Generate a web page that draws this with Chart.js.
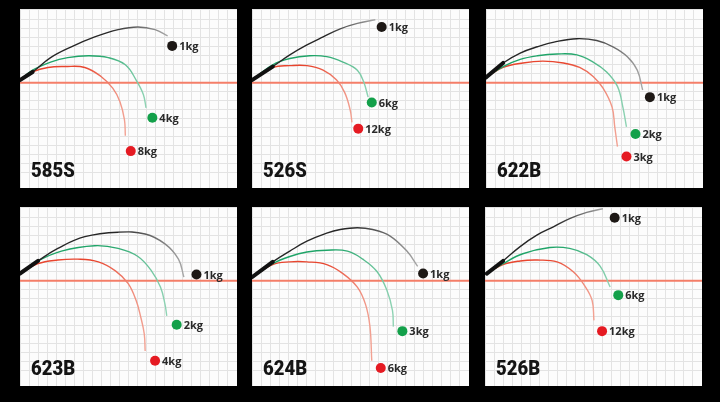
<!DOCTYPE html>
<html lang="en">
<head>
<meta charset="UTF-8" />
<title>Rod bend curves</title>
<script src="https://cdn.jsdelivr.net/npm/chart.js"></script>
<style>
  body { margin: 0; background: #000; width: 720px; height: 402px; overflow: hidden; position: relative; }
  canvas { position: absolute; background: #fcfcfc; }
</style>
</head>
<body>
<canvas id="c0" width="217" height="179" style="left:20px;top:9px"></canvas>
<canvas id="c1" width="217" height="179" style="left:252px;top:9px"></canvas>
<canvas id="c2" width="217" height="179" style="left:486px;top:9px"></canvas>
<canvas id="c3" width="217" height="179" style="left:20px;top:207px"></canvas>
<canvas id="c4" width="217" height="179" style="left:252px;top:207px"></canvas>
<canvas id="c5" width="217" height="179" style="left:485px;top:207px"></canvas>
<script>
// grid units, 0 = rod butt on the red line
const xMax = 24.1, yMin = -11.7, yMax = 8.2;

const rods = ['585S', '526S', '622B', '623B', '624B', '526B'];
const loads = [
  ['1kg', '4kg', '8kg'],
  ['1kg', '6kg', '12kg'],
  ['1kg', '2kg', '3kg'],
  ['1kg', '2kg', '4kg'],
  ['1kg', '3kg', '6kg'],
  ['1kg', '6kg', '12kg']
];

// 585S
const bend585S_light = [[0,0.3],[1.4,1.2],[3.4,2.8],[5.7,4.0],[8.3,5.1],[10.9,5.9],[13.1,6.2],[15.0,5.9],[16.4,5.2]];
const bend585S_mid   = [[0,0.3],[1.4,1.4],[3.4,2.3],[5.3,2.8],[7.6,3.0],[9.8,2.8],[11.7,2.0],[12.9,0.3],[13.7,-1.3],[14.0,-2.8]];
const bend585S_heavy = [[0,0.3],[1.4,1.2],[3.1,1.7],[5.0,1.8],[7.2,1.7],[9.0,0.7],[10.3,-0.6],[11.1,-2.1],[11.6,-4.1],[11.7,-5.9]];
const tips585S = [[16.9,4.1],[14.7,-3.9],[12.3,-7.6]];

// 526S
const bend526S_light = [[0,0.3],[2.3,1.8],[4.2,3.1],[6.1,4.2],[7.9,5.1],[9.8,6.0],[11.7,6.6],[13.7,7.0]];
const bend526S_mid   = [[0,0.3],[2.3,2.0],[4.2,2.7],[6.4,3.0],[8.3,2.9],[10.1,2.3],[11.7,1.4],[12.4,0.1],[12.9,-1.6]];
const bend526S_heavy = [[0,0.3],[2.3,1.7],[4.2,1.9],[6.1,1.9],[7.9,1.4],[9.4,0.3],[10.3,-1.1],[10.9,-3.0],[11.1,-4.4]];
const tips526S = [[14.4,6.2],[13.3,-2.2],[11.8,-5.1]];

// 622B
const bend622B_light = [[0,0.6],[1.9,2.2],[3.8,3.3],[5.7,4.0],[7.9,4.6],[10.1,4.9],[12.3,4.7],[14.1,4.0],[15.7,2.9],[16.8,1.4],[17.4,-0.8]];
const bend622B_mid   = [[0,0.6],[1.9,1.8],[3.8,2.6],[5.7,3.0],[7.9,3.2],[10.1,3.1],[11.9,2.3],[13.4,1.2],[14.6,-0.4],[15.2,-2.7],[15.6,-4.9]];
const bend622B_heavy = [[0,0.6],[1.9,1.7],[4.1,2.2],[6.3,2.4],[8.6,2.2],[10.4,1.7],[11.9,0.7],[13.0,-0.6],[14.0,-2.7],[14.3,-4.9],[14.6,-7.1]];
const tips622B = [[18.2,-1.6],[16.6,-5.7],[15.6,-8.2]];

// 623B
const bend623B_light = [[0,0.8],[2.0,2.2],[4.2,3.6],[7.2,4.9],[10.9,5.4],[13.9,5.2],[16.1,4.1],[17.6,2.4],[18.2,0.4]];
const bend623B_mid   = [[0,0.8],[2.0,2.2],[4.6,3.3],[8.3,3.9],[10.9,3.6],[13.1,2.7],[14.6,1.1],[15.6,-0.7],[16.1,-2.6],[16.3,-3.9]];
const bend623B_heavy = [[0,0.8],[2.0,1.9],[4.2,2.3],[6.4,2.4],[8.7,2.1],[10.6,1.1],[12.0,-0.3],[12.9,-2.2],[13.4,-4.0],[13.8,-5.9],[13.9,-7.8]];
const tips623B = [[19.6,0.7],[17.4,-4.9],[15.0,-8.9]];

// 624B
const bend624B_light = [[0,0.4],[2.3,2.1],[4.2,3.3],[6.1,4.4],[8.3,5.3],[9.8,5.7],[11.7,5.9],[13.4,5.7],[15.3,5.0],[17.2,3.3],[18.4,1.6]];
const bend624B_mid   = [[0,0.4],[2.3,1.9],[4.2,2.7],[6.1,3.2],[8.3,3.4],[10.6,3.3],[12.3,2.4],[13.9,1.0],[15.0,-1.1],[15.6,-3.3],[15.7,-5.1]];
const bend624B_heavy = [[0,0.4],[2.3,1.8],[4.2,2.1],[6.1,2.1],[8.3,1.8],[10.1,0.8],[11.7,-0.7],[12.6,-2.6],[13.1,-5.1],[13.3,-8.9]];
const tips624B = [[19.0,0.8],[16.7,-5.6],[14.3,-9.7]];

// 526B
const bend526B_light = [[0.2,0.8],[2.0,2.2],[3.9,3.8],[5.8,5.1],[7.6,6.0],[9.4,6.9],[11.3,7.6],[13.1,8.0]];
const bend526B_mid   = [[0.2,0.8],[2.0,1.9],[4.2,3.0],[7.2,3.7],[9.4,3.6],[11.3,2.9],[12.8,1.6],[13.9,-0.7]];
const bend526B_heavy = [[0.2,0.8],[2.0,1.8],[3.9,2.2],[5.8,2.3],[8.0,2.1],[9.8,1.0],[11.1,-0.6],[11.9,-2.2],[12.1,-4.4]];
const tips526B = [[14.4,7.0],[14.8,-1.6],[13.0,-5.6]];

const bends = [
  [bend585S_light, bend585S_mid, bend585S_heavy],
  [bend526S_light, bend526S_mid, bend526S_heavy],
  [bend622B_light, bend622B_mid, bend622B_heavy],
  [bend623B_light, bend623B_mid, bend623B_heavy],
  [bend624B_light, bend624B_mid, bend624B_heavy],
  [bend526B_light, bend526B_mid, bend526B_heavy]
];
const tips = [tips585S, tips526S, tips622B, tips623B, tips624B, tips526B];

const lineColors = ['#262626', '#1fa468', '#e8452e'];
const tipColors = ['#a8a8a8', '#8fd3b4', '#f2a293'];
const dotColors = ['#1d1815', '#13a04a', '#e51a22'];

const pts = arr => arr.map(p => ({ x: p[0], y: p[1] }));

// rod fades towards the tip
function fade(chart, i, tipX) {
  const area = chart.chartArea;
  if (!area || !chart.scales.x) return lineColors[i];
  const end = chart.scales.x.getPixelForValue(tipX);
  const g = chart.ctx.createLinearGradient(area.left, 0, end, 0);
  g.addColorStop(0, lineColors[i]);
  g.addColorStop(0.6, lineColors[i]);
  g.addColorStop(1, tipColors[i]);
  return g;
}

function labelPlugin(name, tipArr, loadArr) {
  return {
    id: 'rodLabels',
    afterDatasetsDraw(chart) {
      const { ctx, chartArea } = chart;
      const xs = chart.scales.x, ys = chart.scales.y;
      ctx.save();
      ctx.font = 'bold 11px "Open Sans"';
      ctx.fillStyle = '#2a2a2a';
      ctx.textBaseline = 'middle';
      tipArr.forEach((t, i) => {
        ctx.fillText(loadArr[i], xs.getPixelForValue(t[0]) + 7, ys.getPixelForValue(t[1]) + 1);
      });
      ctx.font = '900 21px Roboto';
      ctx.fillStyle = '#141414';
      ctx.textBaseline = 'alphabetic';
      ctx.translate(chartArea.left + 11, chartArea.bottom - 11);
      ctx.scale(0.88, 1);
      ctx.fillText(name, 0, 0);
      ctx.restore();
    }
  };
}

rods.forEach((name, k) => {
  const curves = bends[k];
  const datasets = [];
  datasets.push({
    data: pts(tips[k]),
    pointRadius: 5,
    pointBackgroundColor: dotColors,
    pointBorderWidth: 0,
    showLine: false
  });
  // thick butt section
  datasets.push({
    data: pts(curves[0].slice(0, 2)),
    borderColor: '#111',
    borderWidth: 4,
    borderCapStyle: 'round',
    tension: 0,
    pointRadius: 0
  });
  curves.forEach((c, i) => {
    const tipX = c[c.length - 1][0];
    datasets.push({
      data: pts(c),
      tension: 0.4,
      borderColor: ctx => fade(ctx.chart, i, tipX),
      borderWidth: 1.4,
      pointRadius: 0
    });
  });
  datasets.push({
    data: [{ x: 0, y: 0 }, { x: xMax, y: 0 }],
    borderColor: '#f47e68',
    borderWidth: 1.8,
    tension: 0,
    pointRadius: 0
  });

  const axis = (min, max) => ({
    type: 'linear',
    min: min,
    max: max,
    ticks: { display: false, stepSize: 1 },
    grid: { color: '#e3e3e3', lineWidth: 1, drawTicks: false },
    border: { display: false }
  });

  new Chart(document.getElementById('c' + k), {
    type: 'line',
    data: { datasets: datasets },
    options: {
      responsive: false,
      animation: false,
      devicePixelRatio: 1,
      events: [],
      layout: { padding: 0, autoPadding: false },
      elements: { line: { capBezierPoints: false } },
      plugins: { legend: { display: false }, tooltip: { enabled: false } },
      scales: { x: axis(0, xMax), y: axis(yMin, yMax) }
    },
    plugins: [labelPlugin(name, tips[k], loads[k])]
  });
});
</script>
</body>
</html>
